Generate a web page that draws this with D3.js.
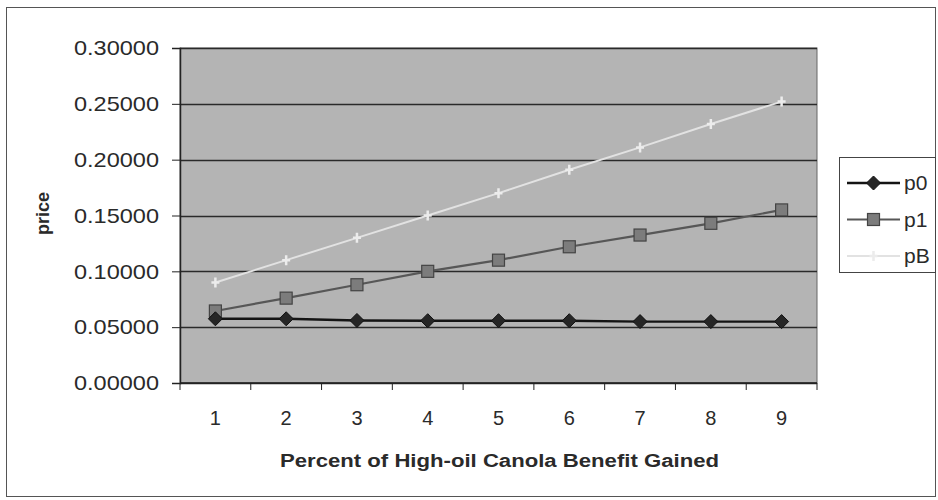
<!DOCTYPE html>
<html>
<head>
<meta charset="utf-8">
<script src="https://cdn.jsdelivr.net/npm/d3@7"></script>
<style>
  html, body { margin: 0; padding: 0; background: #fff; }
  svg { display: block; font-family: "Liberation Sans", Arial, sans-serif; }
</style>
</head>
<body>
<svg id="chart" width="938" height="500"></svg>
<script>
// Category labels along the x axis
const categories = ["1", "2", "3", "4", "5", "6", "7", "8", "9"];
// Series values (price)
const p0 = [0.0575, 0.0575, 0.0560, 0.0558, 0.0558, 0.0558, 0.0550, 0.0550, 0.0550];
const p1 = [0.0645, 0.0760, 0.0880, 0.1000, 0.1100, 0.1220, 0.1325, 0.1430, 0.1550];
const pB = [0.0900, 0.1100, 0.1300, 0.1500, 0.1700, 0.1910, 0.2110, 0.2320, 0.2520];
const seriesNames = ["p0", "p1", "pB"];
const yTicks = [0, 0.05, 0.10, 0.15, 0.20, 0.25, 0.30];

const svg = d3.select("#chart");
const plot = { left: 180, top: 48, right: 817, bottom: 383 };

// Outer chart frame
svg.append("rect")
  .attr("x", 6.5).attr("y", 7.5).attr("width", 929).attr("height", 489)
  .attr("fill", "#fff").attr("stroke", "#555").attr("stroke-width", 1);

const x = d3.scaleBand().domain(categories).range([plot.left, plot.right]).padding(0);
const y = d3.scaleLinear().domain([0, 0.30]).range([plot.bottom, plot.top]);

// Plot area
svg.append("rect")
  .attr("x", plot.left).attr("y", plot.top)
  .attr("width", plot.right - plot.left).attr("height", plot.bottom - plot.top)
  .attr("fill", "#b4b4b4").attr("stroke", "#666").attr("stroke-width", 1);

// Horizontal gridlines
svg.append("g").selectAll("line").data(yTicks).join("line")
  .attr("x1", plot.left).attr("x2", plot.right)
  .attr("y1", d => Math.round(y(d)) + 0.5).attr("y2", d => Math.round(y(d)) + 0.5)
  .attr("stroke", "#2a2a2a").attr("stroke-width", 1.3);

// Y axis
const yAxis = svg.append("g")
  .attr("transform", `translate(${plot.left},0)`)
  .call(d3.axisLeft(y).tickValues(yTicks).tickFormat(d3.format(".5f")).tickSize(8).tickPadding(13));
yAxis.select(".domain").attr("stroke", "#222").attr("stroke-width", 1.5);
yAxis.selectAll(".tick line").attr("stroke", "#222");
yAxis.selectAll("text")
  .attr("font-size", 21).attr("fill", "#2a2a2a")
  .attr("font-family", "Liberation Sans, Arial, sans-serif")
  .attr("textLength", 85).attr("lengthAdjust", "spacingAndGlyphs");

// X axis: ticks at band boundaries, labels at band centres
const xAxisG = svg.append("g").attr("transform", `translate(0,${plot.bottom})`);
xAxisG.append("line")
  .attr("x1", plot.left).attr("x2", plot.right)
  .attr("y1", 0).attr("y2", 0).attr("stroke", "#222").attr("stroke-width", 1.5);
const boundaries = categories.map(c => x(c)).concat([x(categories[categories.length - 1]) + x.bandwidth()]);
xAxisG.selectAll("line.tick").data(boundaries).join("line")
  .attr("class", "tick")
  .attr("x1", d => d).attr("x2", d => d).attr("y1", 0).attr("y2", 7)
  .attr("stroke", "#222");
xAxisG.selectAll("text").data(categories).join("text")
  .attr("x", d => x(d) + x.bandwidth() / 2).attr("y", 42)
  .attr("text-anchor", "middle").attr("font-size", 20).attr("fill", "#2a2a2a")
  .text(d => d);

// Axis titles
svg.append("text")
  .attr("x", 499.5).attr("y", 467)
  .attr("text-anchor", "middle").attr("font-size", 18).attr("font-weight", "bold").attr("fill", "#2a2a2a")
  .attr("textLength", 439).attr("lengthAdjust", "spacingAndGlyphs")
  .text("Percent of High-oil Canola Benefit Gained");
svg.append("text")
  .attr("transform", "translate(49,213.5) rotate(-90)")
  .attr("text-anchor", "middle").attr("font-size", 18).attr("font-weight", "bold").attr("fill", "#2a2a2a")
  .text("price");

// Series
const cx = c => x(c) + x.bandwidth() / 2;
const line = d3.line().x((d, i) => cx(categories[i])).y(d => y(d));
const series = [
  { name: "p0", values: p0, stroke: "#141414", width: 2.4, marker: "diamond", fill: "#262626" },
  { name: "p1", values: p1, stroke: "#575757", width: 2.2, marker: "square", fill: "#7c7c7c" },
  { name: "pB", values: pB, stroke: "#e2e2e2", width: 2, marker: "cross", fill: "#ececec" }
];

function drawMarker(g, type, px, py, fill) {
  if (type === "diamond") {
    g.append("path")
      .attr("d", `M${px},${py - 7}L${px + 7},${py}L${px},${py + 7}L${px - 7},${py}Z`)
      .attr("fill", fill).attr("stroke", "#111").attr("stroke-width", 1);
  } else if (type === "square") {
    g.append("rect")
      .attr("x", px - 6).attr("y", py - 6).attr("width", 12).attr("height", 12)
      .attr("fill", fill).attr("stroke", "#444").attr("stroke-width", 1.2);
  } else {
    g.append("path")
      .attr("d", `M${px - 4},${py}L${px + 4},${py}M${px},${py - 5}L${px},${py + 5}`)
      .attr("stroke", fill).attr("stroke-width", 2.5);
  }
}

// draw in reverse order so p0 sits on top
[...series].reverse().forEach(s => {
  const g = svg.append("g");
  g.append("path").datum(s.values)
    .attr("d", line).attr("fill", "none")
    .attr("stroke", s.stroke).attr("stroke-width", s.width);
  s.values.forEach((v, i) => drawMarker(g, s.marker, cx(categories[i]), y(v), s.fill));
});

// Legend
const legend = svg.append("g");
legend.append("rect")
  .attr("x", 839.5).attr("y", 157.5).attr("width", 96).attr("height", 115)
  .attr("fill", "#fff").attr("stroke", "#444").attr("stroke-width", 1);
series.forEach((s, i) => {
  const ly = 183 + i * 36.5;
  legend.append("line")
    .attr("x1", 847).attr("x2", 900).attr("y1", ly).attr("y2", ly)
    .attr("stroke", s.stroke).attr("stroke-width", s.width);
  drawMarker(legend, s.marker, 873.5, ly, s.fill);
  legend.append("text")
    .attr("x", 904).attr("y", ly + 7)
    .attr("font-size", 21).attr("fill", "#2a2a2a")
    .text(s.name);
});
</script>
</body>
</html>
